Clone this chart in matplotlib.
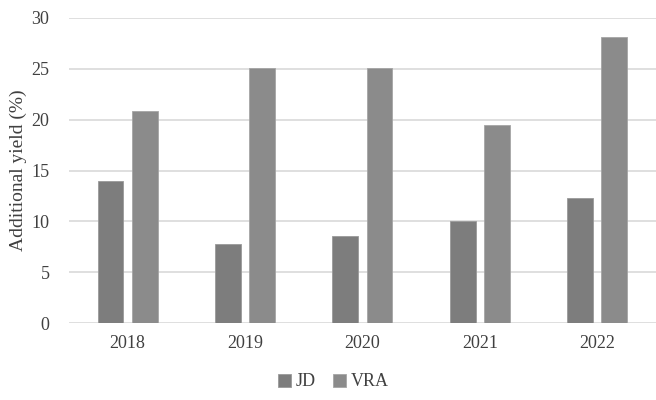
import numpy as np
import matplotlib
matplotlib.use("Agg")
import matplotlib.pyplot as plt

years = ["2018", "2019", "2020", "2021", "2022"]
jd = [14.0, 7.8, 8.6, 10.0, 12.3]
vra = [20.9, 25.1, 25.1, 19.5, 28.1]

plt.rcParams['font.family'] = ['Liberation Serif', 'DejaVu Serif']

fig = plt.figure(figsize=(6.56, 4.0), dpi=100)
ax = fig.add_axes([0.105, 0.1925, 0.895, 0.7625])

x = np.arange(len(years))
w = 0.22
off = 0.145
ax.bar(x - off, jd, w, color="#7d7d7d", edgecolor="#9a9a9a", linewidth=0.6, label="JD", zorder=3)
ax.bar(x + off, vra, w, color="#8b8b8b", edgecolor="#a5a5a5", linewidth=0.6, label="VRA", zorder=3)

ax.set_xlim(-0.5, len(years) - 0.5)
ax.set_ylim(0, 30)
ax.set_yticks(np.arange(0, 31, 5))
ax.set_xticks(x)
ax.set_xticklabels(years)
ax.yaxis.grid(True, color="#d9d9d9", linewidth=1.2, zorder=0)
ax.set_axisbelow(True)
for s in ax.spines.values():
    s.set_visible(False)
ax.tick_params(axis="both", length=0, labelsize=13, colors="#404040", pad=9)
ax.tick_params(axis="y", pad=14)
ax.set_ylabel("Additional yield (%)", fontsize=14, color="#404040", labelpad=3)

fig.legend(loc="center", bbox_to_anchor=(0.508, 0.045), ncol=2, frameon=False,
           fontsize=13, handlelength=0.7, handleheight=0.7, handletextpad=0.25,
           columnspacing=1.0, labelcolor="#404040")

fig.savefig("out.png", dpi=100)
